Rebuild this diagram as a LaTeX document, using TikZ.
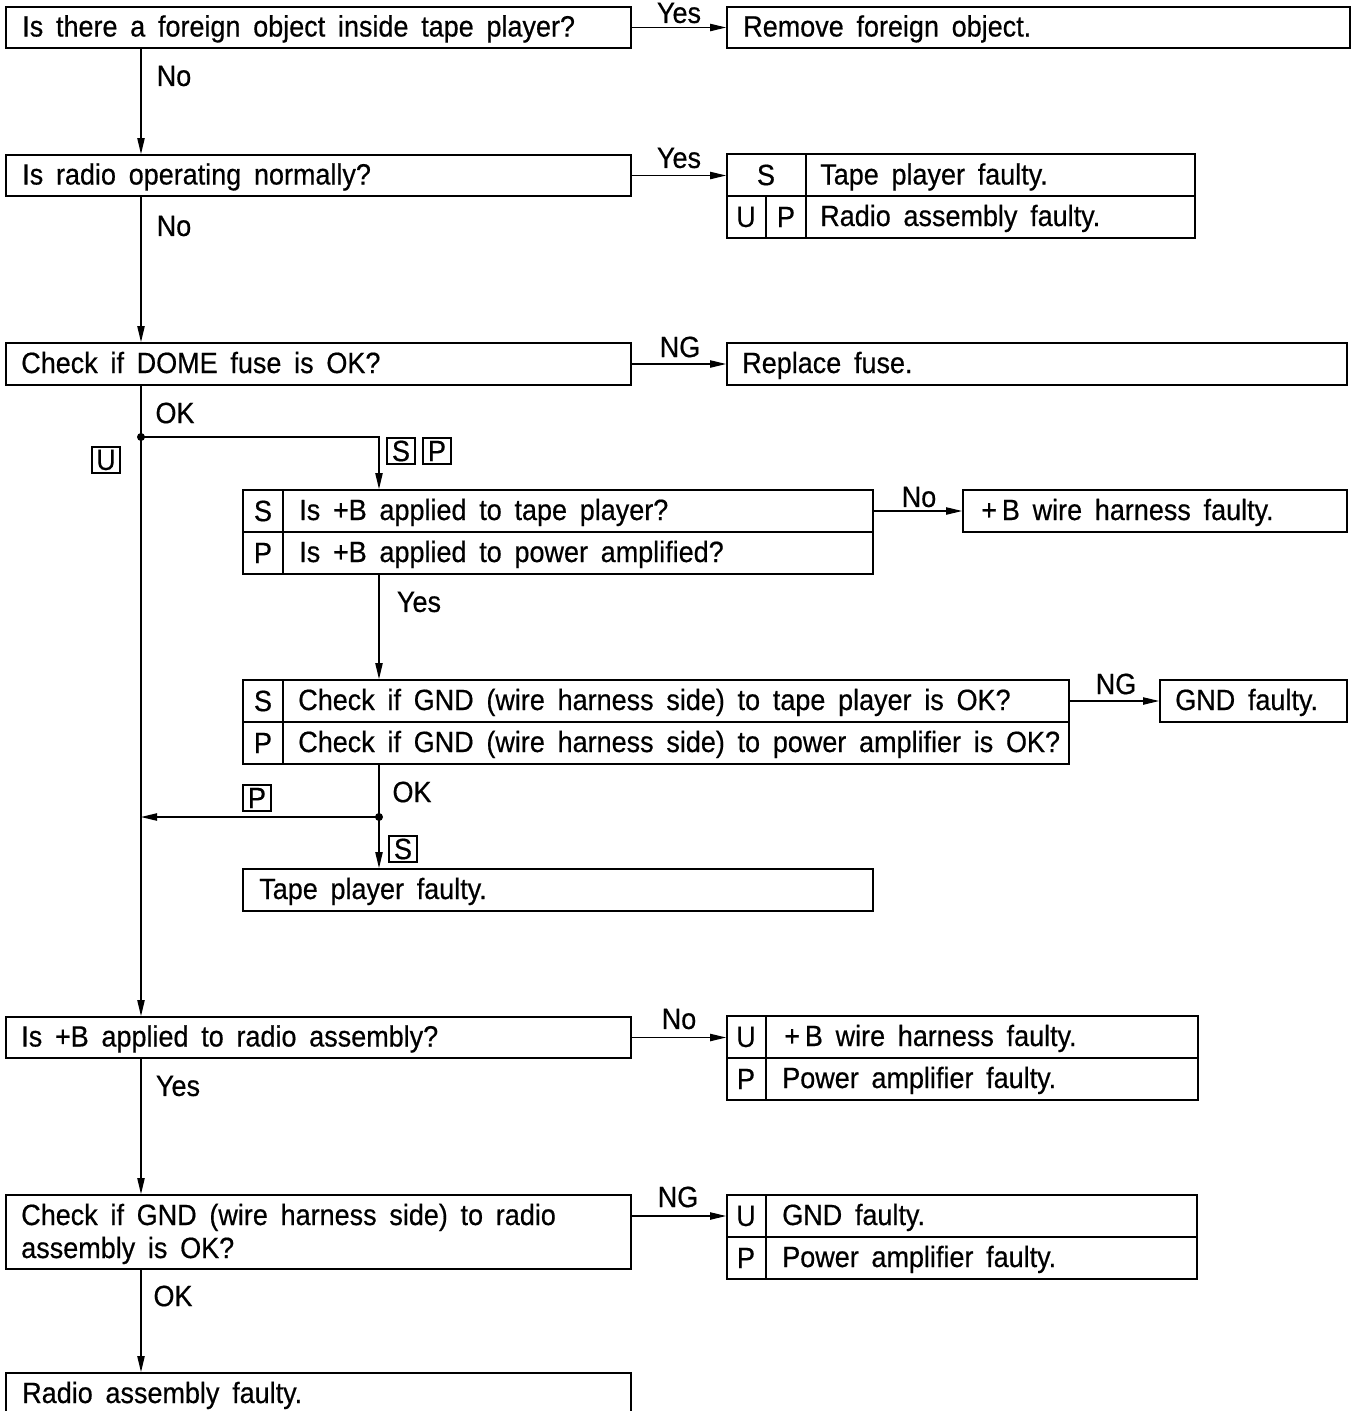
\documentclass[tikz,border=0pt]{standalone}
\usepackage{fontspec}
\setmainfont[FakeStretch=0.92,WordSpace=1.7,FakeBold=0.5]{Liberation Sans}
\usetikzlibrary{arrows.meta,fit}
\begin{document}
\begin{tikzpicture}[x=0.75pt,y=-0.75pt,
  font=\fontsize{22pt}{26pt}\selectfont,
  bx/.style={draw,line width=1.4pt,inner sep=0pt,fit={#1}},
  tx/.style={inner sep=0pt,anchor=base west},
  lab/.style={inner sep=0pt},
  ln/.style={line width=1.4pt},
  arr/.style={line width=0.9pt,-{Triangle[length=12pt,width=5.5pt]}},
  tag/.style={draw,line width=1.1pt,inner sep=0pt,minimum width=21pt,minimum height=19.5pt},
  dot/.style={fill=black}]
\useasboundingbox (0,0) rectangle (1359,1411);
\coordinate (vx) at (141,0);
\coordinate (vy) at (379,0);

% Q1
\node[bx={(6,7) (631,48)}] (q1) {};
\node[tx] (q1t) at (22,36.5) {Is there a foreign object inside tape player?};
\node[bx={(727,7) (1350,48)}] (r1) {};
\node[tx] (r1t) at (743,36.5) {Remove foreign object.};
\node[lab] (l1) at (679,13) {Yes};
\node[lab] (l2) at (174,76) {No};

% Q2
\node[bx={(6,155) (631,196)}] (q2) {};
\node[tx] (q2t) at (22,184.5) {Is radio operating normally?};
\node[bx={(727,154) (1195,238)}] (r2) {};
\draw[ln] (r2.west) -- (r2.east);
\draw[ln] (806,154) -- (806,238);
\draw[ln] (766,196) -- (766,238);
\node[lab] (r2s) at (766,175) {S};
\node[tx] (r2a) at (820,184.5) {Tape player faulty.};
\node[lab] (r2u) at (746,217) {U};
\node[lab] (r2p) at (786,217) {P};
\node[tx] (r2b) at (820,226) {Radio assembly faulty.};
\node[lab] (l3) at (679,158) {Yes};
\node[lab] (l4) at (174,226) {No};

% Q3
\node[bx={(6,343) (631,385)}] (q3) {};
\node[tx] (q3t) at (21,373) {Check if DOME fuse is OK?};
\node[bx={(727,343) (1347,385)}] (r3) {};
\node[tx] (r3t) at (742,373) {Replace fuse.};
\node[lab] (l5) at (680,347) {NG};
\node[lab] (l6) at (175,413) {OK};
\coordinate (j1) at (141,437);
\node[tag] (t1) at (401,451) {S};
\node[tag] (t2) at (437,451) {P};
\node[tag] (t3) at (106,460) {U};

% Q4
\node[bx={(243,490) (873,574)}] (q4) {};
\draw[ln] (q4.west) -- (q4.east);
\draw[ln] (283,490) -- (283,574);
\node[lab] (q4s) at (263,511) {S};
\node[tx] (q4a) at (299,520) {Is +B applied to tape player?};
\node[lab] (q4p) at (263,553) {P};
\node[tx] (q4b) at (299,562) {Is +B applied to power amplified?};
\node[bx={(963,490) (1347,532)}] (r4) {};
\node[tx] (r4t) at (981,520) {+\,B wire harness faulty.};
\node[lab] (l7) at (919,497) {No};
\node[lab] (l8) at (419,602) {Yes};

% Q5
\node[bx={(243,680) (1069,764)}] (q5) {};
\draw[ln] (q5.west) -- (q5.east);
\draw[ln] (283,680) -- (283,764);
\node[lab] (q5s) at (263,701) {S};
\node[tx] (q5a) at (298,710) {Check if GND (wire harness side) to tape player is OK?};
\node[lab] (q5p) at (263,743) {P};
\node[tx] (q5b) at (298,752) {Check if GND (wire harness side) to power amplifier is OK?};
\node[bx={(1160,680) (1347,722)}] (r5) {};
\node[tx] (r5t) at (1175,710) {GND faulty.};
\node[lab] (l9) at (1116,684) {NG};
\node[lab] (l10) at (412,792) {OK};
\coordinate (j2) at (379,817);
\node[tag] (t4) at (257,798) {P};
\node[tag] (t5) at (403,849) {S};
\node[bx={(243,869) (873,911)}] (r6) {};
\node[tx] (r6t) at (259,899) {Tape player faulty.};

% Q6
\node[bx={(6,1017) (631,1058)}] (q6) {};
\node[tx] (q6t) at (21,1046.5) {Is +B applied to radio assembly?};
\node[bx={(727,1016) (1198,1100)}] (r7) {};
\draw[ln] (r7.west) -- (r7.east);
\draw[ln] (766,1016) -- (766,1100);
\node[lab] (r7u) at (746,1037) {U};
\node[tx] (r7a) at (784,1046) {+\,B wire harness faulty.};
\node[lab] (r7p) at (746,1079) {P};
\node[tx] (r7b) at (782,1088) {Power amplifier faulty.};
\node[lab] (l11) at (679,1019) {No};
\node[lab] (l12) at (178,1086) {Yes};

% Q7
\node[bx={(6,1195) (631,1269)}] (q7) {};
\node[tx] (q7a) at (21,1225) {Check if GND (wire harness side) to radio};
\node[tx] (q7b) at (21,1258) {assembly is OK?};
\node[bx={(727,1195) (1197,1279)}] (r8) {};
\draw[ln] (r8.west) -- (r8.east);
\draw[ln] (766,1195) -- (766,1279);
\node[lab] (r8u) at (746,1216) {U};
\node[tx] (r8a) at (782,1225) {GND faulty.};
\node[lab] (r8p) at (746,1258) {P};
\node[tx] (r8b) at (782,1267) {Power amplifier faulty.};
\coordinate (a8) at (0,1216);
\node[lab] (l13) at (678,1197) {NG};
\node[lab] (l14) at (173,1296) {OK};

% R9
\node[bx={(6,1373) (631,1414)}] (r9) {};
\node[tx] (r9t) at (22,1403) {Radio assembly faulty.};

% connectors
\draw[arr] (q1.east) -- (r1.west);
\draw[arr] (q1.south -| vx) -- (q2.north -| vx);
\draw[arr] (q2.east) -- (q2.east -| r2.west);
\draw[arr] (q2.south -| vx) -- (q3.north -| vx);
\draw[arr] (q3.east) -- (r3.west);
\draw[arr] (q3.south -| vx) -- (q6.north -| vx);
\fill[dot] (j1) circle (3pt);
\draw[arr] (j1) -- (j1 -| vy) -- (q4.north -| vy);
\draw[arr] (r4.west -| q4.east) -- (r4.west);
\draw[arr] (q4.south -| vy) -- (q5.north -| vy);
\draw[arr] (r5.west -| q5.east) -- (r5.west);
\draw[arr] (q5.south -| vy) -- (r6.north -| vy);
\fill[dot] (j2) circle (3pt);
\draw[arr] (j2) -- (j2 -| vx);
\draw[arr] (q6.east) -- (q6.east -| r7.west);
\draw[arr] (q6.south -| vx) -- (q7.north -| vx);
\draw[arr] (q7.east |- a8) -- (r8.west |- a8);
\draw[arr] (q7.south -| vx) -- (r9.north -| vx);
\end{tikzpicture}
\end{document}
